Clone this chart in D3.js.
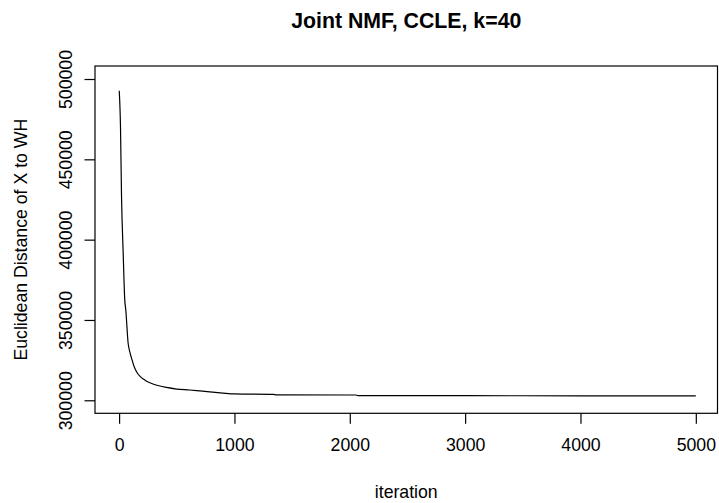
<!DOCTYPE html>
<html>
<head>
<meta charset="utf-8">
<script src="https://cdn.jsdelivr.net/npm/d3@7"></script>
<style>
  body { margin: 0; background: #fff; }
  svg { display: block; font-family: "Liberation Sans", Arial, sans-serif; }
</style>
</head>
<body>
<div id="wrapper"></div>
<script>
// values
const iterations = [1, 12, 21, 35, 49, 58, 78, 95, 115, 130, 151, 180, 210, 238, 300, 411, 500, 613, 700, 787, 900, 1000, 1340, 1360, 2050, 2070, 3000, 4000, 5000];
const distances = [492700, 470400, 426800, 392500, 362500, 356200, 335700, 329500, 324500, 321000, 317800, 315000, 313200, 311900, 310000, 308000, 307000, 306400, 305800, 305200, 304500, 304000, 303700, 303400, 303300, 302900, 302850, 302800, 302800];
const xTicks = [0, 1000, 2000, 3000, 4000, 5000];
const yTicks = [300000, 350000, 400000, 450000, 500000];

const title = "Joint NMF, CCLE, k=40";
const xLabel = "iteration";
const yLabel = "Euclidean Distance of X to WH";

function drawChart() {
  const dataset = iterations.map((it, i) => ({ it: it, dist: distances[i] }));

  let dimensions = {
    width: 719,
    height: 503,
    margin: { top: 66, right: 1.5, bottom: 89.7, left: 95 },
  };
  dimensions.boundedWidth = dimensions.width - dimensions.margin.left - dimensions.margin.right;
  dimensions.boundedHeight = dimensions.height - dimensions.margin.top - dimensions.margin.bottom;

  const svg = d3.select("#wrapper")
    .append("svg")
    .attr("width", dimensions.width)
    .attr("height", dimensions.height);

  svg.append("rect")
    .attr("width", dimensions.width)
    .attr("height", dimensions.height)
    .attr("fill", "#fff");

  const bounds = svg.append("g")
    .attr("transform", `translate(${dimensions.margin.left},${dimensions.margin.top})`);

  // R style padded ranges (4% each side)
  const xScale = d3.scaleLinear()
    .domain([-209, 5188])
    .range([0, dimensions.boundedWidth]);

  const yScale = d3.scaleLinear()
    .domain([291900, 508100])
    .range([dimensions.boundedHeight, 0]);

  const lineGenerator = d3.line()
    .curve(d3.curveMonotoneX)
    .x((d) => xScale(d.it))
    .y((d) => yScale(d.dist));

  bounds.append("path")
    .attr("d", lineGenerator(dataset))
    .attr("fill", "none")
    .attr("stroke", "#000")
    .attr("stroke-width", 1.2)
    .attr("stroke-linejoin", "round");

  // box
  bounds.append("rect")
    .attr("x", 0)
    .attr("y", 0)
    .attr("width", dimensions.boundedWidth)
    .attr("height", dimensions.boundedHeight)
    .attr("fill", "none")
    .attr("stroke", "#000")
    .attr("stroke-width", 1.2);

  // x axis
  const xAxis = bounds.append("g")
    .attr("transform", `translate(0,${dimensions.boundedHeight})`)
    .call(d3.axisBottom(xScale).tickValues(xTicks).tickSize(10.5).tickSizeOuter(0).tickPadding(15).tickFormat(d3.format("d")));
  xAxis.select(".domain").attr("stroke", "none");
  xAxis.selectAll(".tick line").attr("stroke", "#000").attr("stroke-width", 1.2);
  xAxis.selectAll(".tick text")
    .attr("fill", "#000")
    .style("font-size", "17.7px")
    .style("font-family", "Liberation Sans, Arial, sans-serif");

  // y axis
  const yAxis = bounds.append("g")
    .call(d3.axisLeft(yScale).tickValues(yTicks).tickSize(10.5).tickSizeOuter(0).tickFormat(d3.format("d")));
  yAxis.select(".domain").attr("stroke", "none");
  yAxis.selectAll(".tick line").attr("stroke", "#000").attr("stroke-width", 1.2);
  yAxis.selectAll(".tick text")
    .attr("fill", "#000")
    .attr("x", null)
    .attr("dy", null)
    .attr("transform", "translate(-23,0) rotate(-90)")
    .attr("text-anchor", "middle")
    .style("font-size", "17.7px")
    .style("font-family", "Liberation Sans, Arial, sans-serif");

  // axis titles
  svg.append("text")
    .attr("x", dimensions.margin.left + dimensions.boundedWidth / 2)
    .attr("y", 498)
    .attr("text-anchor", "middle")
    .style("font-size", "17.7px")
    .text(xLabel);

  svg.append("text")
    .attr("transform", `translate(27,${dimensions.margin.top + dimensions.boundedHeight / 2}) rotate(-90)`)
    .attr("text-anchor", "middle")
    .style("font-size", "17.7px")
    .text(yLabel);

  // title
  svg.append("text")
    .attr("x", dimensions.margin.left + dimensions.boundedWidth / 2)
    .attr("y", 28)
    .attr("text-anchor", "middle")
    .style("font-size", "21.3px")
    .style("font-weight", "bold")
    .text(title);
}

drawChart();
</script>
</body>
</html>
